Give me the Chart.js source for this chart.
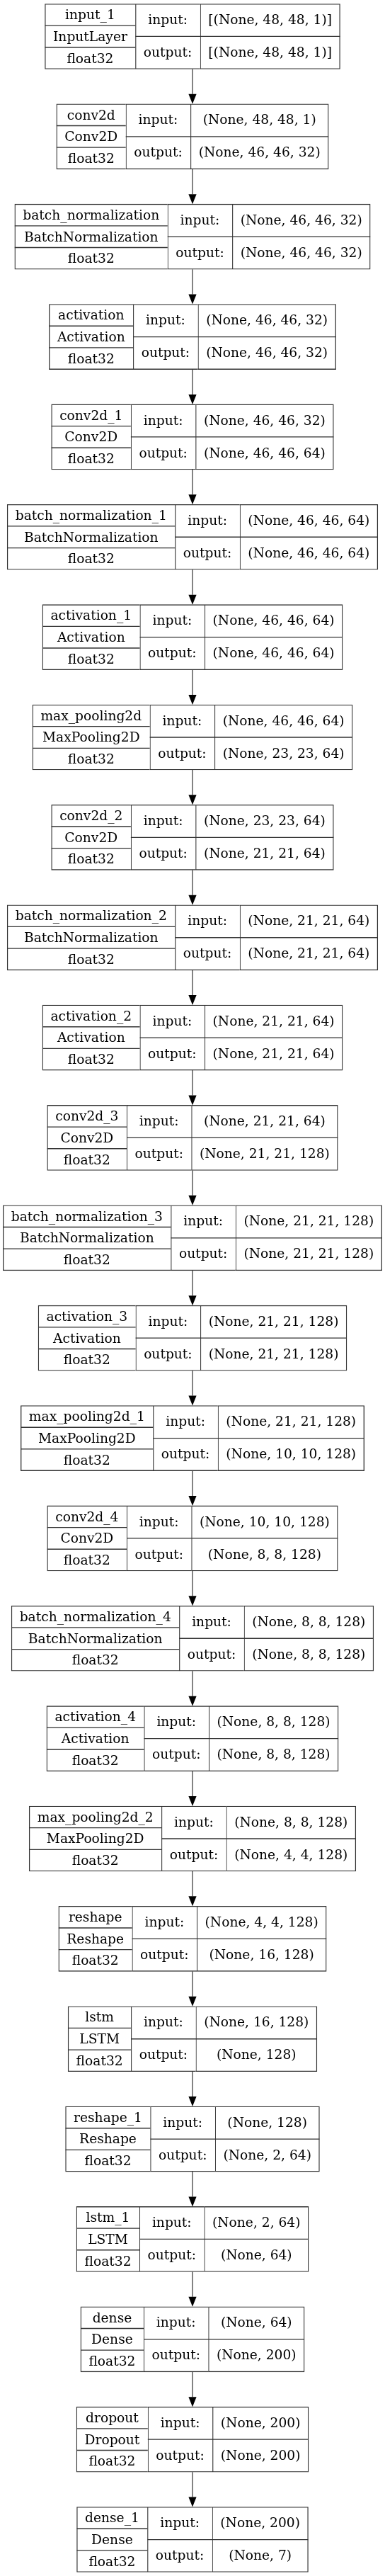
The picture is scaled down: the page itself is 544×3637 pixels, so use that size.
<!DOCTYPE html>
<html>
<head>
<meta charset="utf-8">
<script src="https://cdn.jsdelivr.net/npm/chart.js@4/dist/chart.umd.min.js"></script>
<style>
  html, body { margin: 0; padding: 0; background: #ffffff; }
  #wrap { width: 544px; height: 3637px; }
  canvas { display: block; }
</style>
</head>
<body>
<div id="wrap"><canvas id="c" width="544" height="3637"></canvas></div>
<script>
// ---- data ----
const layerNames = ['input_1','conv2d','batch_normalization','activation','conv2d_1','batch_normalization_1','activation_1','max_pooling2d','conv2d_2','batch_normalization_2','activation_2','conv2d_3','batch_normalization_3','activation_3','max_pooling2d_1','conv2d_4','batch_normalization_4','activation_4','max_pooling2d_2','reshape','lstm','reshape_1','lstm_1','dense','dropout','dense_1'];
const layerClasses = ['InputLayer','Conv2D','BatchNormalization','Activation','Conv2D','BatchNormalization','Activation','MaxPooling2D','Conv2D','BatchNormalization','Activation','Conv2D','BatchNormalization','Activation','MaxPooling2D','Conv2D','BatchNormalization','Activation','MaxPooling2D','Reshape','LSTM','Reshape','LSTM','Dense','Dropout','Dense'];
const layerDtypes = layerNames.map(() => 'float32');
const inputShapes = ['[(None, 48, 48, 1)]','(None, 48, 48, 1)','(None, 46, 46, 32)','(None, 46, 46, 32)','(None, 46, 46, 32)','(None, 46, 46, 64)','(None, 46, 46, 64)','(None, 46, 46, 64)','(None, 23, 23, 64)','(None, 21, 21, 64)','(None, 21, 21, 64)','(None, 21, 21, 64)','(None, 21, 21, 128)','(None, 21, 21, 128)','(None, 21, 21, 128)','(None, 10, 10, 128)','(None, 8, 8, 128)','(None, 8, 8, 128)','(None, 8, 8, 128)','(None, 4, 4, 128)','(None, 16, 128)','(None, 128)','(None, 2, 64)','(None, 64)','(None, 200)','(None, 200)'];
const outputShapes = ['[(None, 48, 48, 1)]','(None, 46, 46, 32)','(None, 46, 46, 32)','(None, 46, 46, 32)','(None, 46, 46, 64)','(None, 46, 46, 64)','(None, 46, 46, 64)','(None, 23, 23, 64)','(None, 21, 21, 64)','(None, 21, 21, 64)','(None, 21, 21, 64)','(None, 21, 21, 128)','(None, 21, 21, 128)','(None, 21, 21, 128)','(None, 10, 10, 128)','(None, 8, 8, 128)','(None, 8, 8, 128)','(None, 8, 8, 128)','(None, 4, 4, 128)','(None, 16, 128)','(None, 128)','(None, 2, 64)','(None, 64)','(None, 200)','(None, 200)','(None, 7)'];
const portLabels = ['input:', 'output:'];

// ---- styling ----
const FONT = '18.67px "DejaVu Serif"';
const PAD = 23;          // record field padding
const X_MIN = 0, X_MAX = 544;
const Y_MIN = -0.364, Y_MAX = 25.364;
const LINE = '#333333';
const LW = 1.33;

// ---- field widths from the text (graphviz-like record sizing) ----
const mctx = document.createElement('canvas').getContext('2d');
mctx.font = FONT;
const tw = s => mctx.measureText(s).width;
const center = (X_MIN + X_MAX) / 2;
const nameCol = [], portCol = [], shapeCol = [];
layerNames.forEach((n, i) => {
  const w0 = Math.max(tw(n), tw(layerClasses[i]), tw(layerDtypes[i])) + PAD;
  const w1 = Math.max(...portLabels.map(tw)) + PAD;
  const w2 = Math.max(tw(inputShapes[i]), tw(outputShapes[i])) + PAD;
  const left = center - (w0 + w1 + w2) / 2;
  nameCol.push({ y: i, x: [left, left + w0] });
  portCol.push({ y: i, x: [left + w0, left + w0 + w1] });
  shapeCol.push({ y: i, x: [left + w0 + w1, left + w0 + w1 + w2] });
});

const recordPlugin = {
  id: 'record',
  afterDatasetsDraw(chart) {
    const ctx = chart.ctx;
    const m = [0, 1, 2].map(d => chart.getDatasetMeta(d).data);
    const xs = chart.scales.x;
    ctx.save();
    ctx.strokeStyle = LINE;
    ctx.lineWidth = LW;
    ctx.font = FONT;
    ctx.textAlign = 'center';
    ctx.textBaseline = 'alphabetic';
    const BL = 6.4;
    for (let i = 0; i < layerNames.length; i++) {
      const e0 = m[0][i], e1 = m[1][i], e2 = m[2][i];
      const top = e0.y - e0.height / 2, h = e0.height;
      const l0 = Math.min(e0.x, e0.base), r0 = Math.max(e0.x, e0.base);
      const l1 = Math.min(e1.x, e1.base), r1 = Math.max(e1.x, e1.base);
      const l2 = Math.min(e2.x, e2.base), r2 = Math.max(e2.x, e2.base);
      // inner dividers
      ctx.beginPath();
      ctx.moveTo(l0, top + h / 3); ctx.lineTo(r0, top + h / 3);
      ctx.moveTo(l0, top + 2 * h / 3); ctx.lineTo(r0, top + 2 * h / 3);
      ctx.moveTo(l1, e1.y); ctx.lineTo(r2, e1.y);
      ctx.stroke();
      // texts
      ctx.fillStyle = '#000';
      const c0 = (l0 + r0) / 2, c1 = (l1 + r1) / 2, c2 = (l2 + r2) / 2;
      ctx.fillText(layerNames[i], c0, top + h / 6 + BL);
      ctx.fillText(layerClasses[i], c0, top + h / 2 + BL);
      ctx.fillText(layerDtypes[i], c0, top + 5 * h / 6 + BL);
      ctx.fillText(portLabels[0], c1, top + h / 4 + BL - 0.8);
      ctx.fillText(portLabels[1], c1, top + 3 * h / 4 + BL - 0.8);
      ctx.fillText(inputShapes[i], c2, top + h / 4 + BL - 0.8);
      ctx.fillText(outputShapes[i], c2, top + 3 * h / 4 + BL - 0.8);
    }
    // edges
    const xc = xs.getPixelForValue(center);
    const HL = 14, HW = 5.6;
    for (let i = 0; i < layerNames.length - 1; i++) {
      const a = m[0][i], b = m[0][i + 1];
      const y1 = a.y + a.height / 2, y2 = b.y - b.height / 2;
      ctx.strokeStyle = '#444';
      ctx.beginPath();
      ctx.moveTo(xc, y1); ctx.lineTo(xc, y2 - HL);
      ctx.stroke();
      ctx.beginPath();
      ctx.moveTo(xc - HW, y2 - HL); ctx.lineTo(xc + HW, y2 - HL); ctx.lineTo(xc, y2);
      ctx.closePath();
      ctx.fillStyle = '#000';
      ctx.fill();
    }
    ctx.restore();
  }
};

const common = {
  backgroundColor: '#ffffff',
  borderColor: LINE,
  borderSkipped: false,
  grouped: false,
  barThickness: 92,
};

new Chart(document.getElementById('c'), {
  type: 'bar',
  data: {
    labels: layerNames,
    datasets: [
      Object.assign({ label: 'layer', data: nameCol, borderWidth: { top: LW, bottom: LW, left: LW, right: 0 } }, common),
      Object.assign({ label: 'port', data: portCol, borderWidth: { top: LW, bottom: LW, left: LW, right: 0 } }, common),
      Object.assign({ label: 'shape', data: shapeCol, borderWidth: LW }, common),
    ]
  },
  options: {
    indexAxis: 'y',
    responsive: false,
    maintainAspectRatio: false,
    animation: false,
    layout: { padding: 0 },
    plugins: { legend: { display: false }, tooltip: { enabled: false } },
    scales: {
      x: { type: 'linear', min: X_MIN, max: X_MAX, offset: false, display: false },
      y: { type: 'linear', min: Y_MIN, max: Y_MAX, reverse: true, offset: false, display: false }
    }
  },
  plugins: [recordPlugin]
});
</script>
</body>
</html>
